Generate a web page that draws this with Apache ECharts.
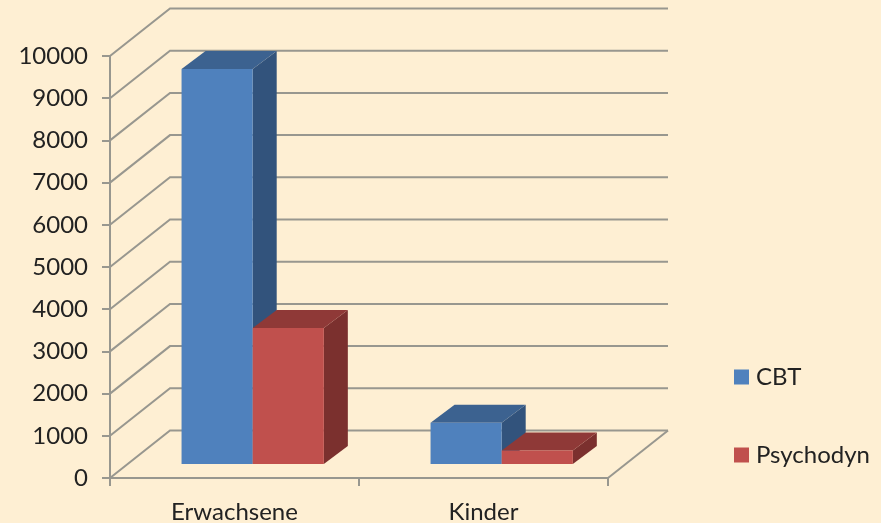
<!DOCTYPE html>
<html><head><meta charset="utf-8">
<style>html,body{margin:0;padding:0;background:#FEEFD3}#c{width:881px;height:523px}</style>
<script src="https://cdn.jsdelivr.net/npm/echarts@6/dist/echarts.min.js"></script>
</head><body><div id="c"></div>
<script>
var categories = ['Erwachsene', 'Kinder'];
var cbt = [9360, 980];
var psychodyn = [3225, 320];
var yTicks = [0, 1000, 2000, 3000, 4000, 5000, 6000, 7000, 8000, 9000, 10000];

var GRID = '#98978F', TEXT = '#222222';
var WALL_DX = 60, WALL_DY = 47.5;
var BAR_OFF_DX = 18.2, BAR_OFF_DY = 14, BAR_DX = 24, BAR_DY = 18, BAR_FRAC = 2 / 7;

function gridItem(params, api) {
  var band = api.size([1, 0])[0];
  var p = api.coord([0, api.value(1)]);
  var left = p[0] - band / 2;
  var right = left + band * categories.length;
  var style = { stroke: GRID, lineWidth: 2, fill: null };
  var kids = [{
    type: 'polyline',
    shape: { points: [[left, p[1]], [left + WALL_DX, p[1] - WALL_DY], [right + WALL_DX, p[1] - WALL_DY]] },
    style: style
  }];
  if (api.value(1) === 0) {
    kids.push({
      type: 'polyline',
      shape: { points: [[right, p[1]], [right + WALL_DX, p[1] - WALL_DY]] },
      style: style
    });
  }
  return { type: 'group', children: kids };
}

function barRenderer(side, front, top, dark) {
  return function (params, api) {
    var band = api.size([1, 0])[0];
    var c = api.coord([api.value(0), api.value(1)]);
    var b = api.coord([api.value(0), 0]);
    var w = band * BAR_FRAC;
    var x0 = c[0] + BAR_OFF_DX + (side < 0 ? -w : 0);
    var x1 = x0 + w;
    var yT = c[1] - BAR_OFF_DY;
    var yB = b[1] - BAR_OFF_DY;
    return { type: 'group', children: [
      { type: 'polygon', shape: { points: [[x1, yT], [x1 + BAR_DX, yT - BAR_DY], [x1 + BAR_DX, yB - BAR_DY], [x1, yB]] }, style: { fill: dark } },
      { type: 'polygon', shape: { points: [[x0, yT], [x0 + BAR_DX, yT - BAR_DY], [x1 + BAR_DX, yT - BAR_DY], [x1, yT]] }, style: { fill: top } },
      { type: 'rect', shape: { x: x0, y: yT, width: w, height: yB - yT }, style: { fill: front } }
    ] };
  };
}

function pairs(vals) { return vals.map(function (v, i) { return [i, v]; }); }

var chart = echarts.init(document.getElementById('c'));
chart.setOption({
  animation: false,
  backgroundColor: '#FEEFD3',
  textStyle: { fontFamily: 'Lato' },
  grid: { left: 110, top: 56, width: 498, height: 422, containLabel: false, outerBoundsMode: 'none' },
  legend: {
    data: ['CBT', 'Psychodyn'], orient: 'vertical', left: 734, top: 365, padding: 0,
    icon: 'rect', itemWidth: 15, itemHeight: 15, itemGap: 54, selectedMode: false,
    textStyle: { fontFamily: 'Lato', fontSize: 24, color: TEXT, padding: [0, 0, 0, 2] }
  },
  xAxis: {
    type: 'category', data: categories,
    axisLine: { show: true, onZero: false, lineStyle: { color: GRID, width: 2 } },
    axisTick: { show: true, inside: false, length: 8, lineStyle: { color: GRID, width: 2 } },
    axisLabel: { fontFamily: 'Lato', fontSize: 24, color: TEXT, margin: 22 },
    z: 10
  },
  yAxis: {
    type: 'value', min: 0, max: 10000, interval: 1000,
    splitLine: { show: false },
    axisLine: { show: true, onZero: false, lineStyle: { color: GRID, width: 2 } },
    axisTick: { show: true, inside: false, length: 8, lineStyle: { color: GRID, width: 2 } },
    axisLabel: { fontFamily: 'Lato', fontSize: 24, color: TEXT, margin: 22, formatter: function (v) { return String(v); } },
    z: 10
  },
  series: [
    { type: 'custom', name: 'grid3d', silent: true, clip: false, data: yTicks.map(function (t) { return [0, t]; }), renderItem: gridItem, z: 1 },
    { type: 'custom', name: 'CBT', clip: false, data: pairs(cbt), itemStyle: { color: '#4F81BD' }, renderItem: barRenderer(-1, '#4F81BD', '#3C6290', '#32537C'), z: 3 },
    { type: 'custom', name: 'Psychodyn', clip: false, data: pairs(psychodyn), itemStyle: { color: '#C0504D' }, renderItem: barRenderer(1, '#C0504D', '#8F3937', '#7B302E'), z: 4 }
  ]
});
</script></body></html>
